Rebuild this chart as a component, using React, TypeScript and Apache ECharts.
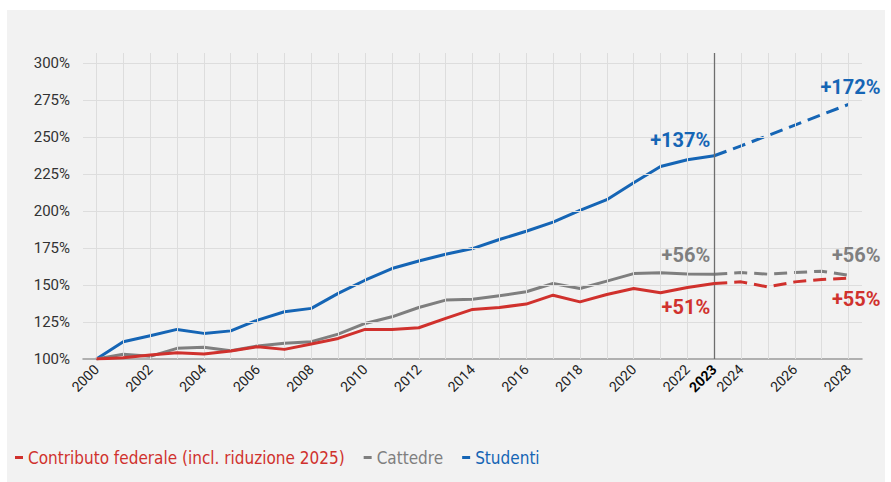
import React, { useEffect, useRef } from "react";
import * as echarts from "echarts";

const years = ["2000","2001","2002","2003","2004","2005","2006","2007","2008","2009","2010","2011","2012","2013","2014","2015","2016","2017","2018","2019","2020","2021","2022","2023","2024","2025","2026","2027","2028"];
const forecastStart = "2023";
const contributo = [100, 100.9, 102.7, 104.2, 103.4, 105.4, 108.3, 106.5, 110.1, 113.9, 120, 120, 121.1, 127.4, 133.5, 134.8, 137.1, 143.1, 138.6, 143.6, 147.6, 144.7, 148.3, 151, 152.1, 148.7, 152.1, 153.7, 154.6];
const cattedre = [100, 103.2, 101.8, 107.2, 107.9, 105.6, 108.8, 110.6, 111.7, 116.8, 124, 128.5, 134.8, 139.8, 140.4, 142.7, 145.4, 151, 147.6, 152.6, 157.7, 158.2, 157.5, 157.3, 158.4, 157.3, 158.4, 159.3, 156.6];
const studenti = [100, 111.7, 115.7, 120, 117.3, 119, 126.3, 131.9, 134.2, 144.3, 153.2, 161.1, 166.2, 170.8, 174.6, 180.7, 186.3, 192.5, 200.4, 207.6, 219.1, 230, 234.6, 237.3, 244, 251, 258, 265, 272];
const yTicks = [100, 125, 150, 175, 200, 225, 250, 275, 300];
const labelsAt2023 = { contributo: "+51%", cattedre: "+56%", studenti: "+137%" };
const labelsAt2028 = { contributo: "+55%", cattedre: "+56%", studenti: "+172%" };
const names = {
  contributo: "Contributo federale (incl. riduzione 2025)",
  cattedre: "Cattedre",
  studenti: "Studenti",
};

const RED = "#d0312d";
const GRAY = "#7f7f7f";
const BLUE = "#1565b5";
const AXIS_FONT = "Roboto, 'DejaVu Sans', sans-serif";
const LEGEND_FONT = "'Liberation Sans Narrow', 'DejaVu Sans Condensed', Roboto, sans-serif";

export default function App() {
  const ref = useRef<HTMLDivElement>(null);
  useEffect(() => {
    if (!ref.current) return;
    const chart = echarts.init(ref.current, null, { renderer: "svg" });
    const fi = years.indexOf(forecastStart);
    const last = years.length - 1;

    const mk = (
      key: "contributo" | "cattedre" | "studenti",
      values: number[],
      color: string,
      offStart: number[],
      offEnd: number[],
      z: number
    ) => {
      const lbl = (text: string, off: number[]) => ({
        show: true,
        position: "inside",
        align: "right",
        verticalAlign: "middle",
        offset: off,
        formatter: text,
        color,
        fontFamily: AXIS_FONT,
        fontWeight: "bold",
        fontSize: 20,
      });
      return [
        {
          name: names[key],
          type: "line",
          z,
          data: values.map((v, i) => (i <= fi ? v : null)),
          showSymbol: false,
          symbol: "none",
          lineStyle: { color, width: 3, join: "round" },
          itemStyle: { color },
          silent: true,
          markPoint: {
            symbol: "circle",
            symbolSize: 0,
            silent: true,
            data: [
              { coord: [fi, values[fi]], label: lbl(labelsAt2023[key], offStart) },
            ],
          },
        },
        {
          name: names[key],
          type: "line",
          z,
          data: values.map((v, i) => (i >= fi ? v : null)),
          showSymbol: false,
          symbol: "none",
          lineStyle: { color, width: 3, type: [13, 7], join: "round" },
          itemStyle: { color },
          silent: true,
          markPoint: {
            symbol: "circle",
            symbolSize: 0,
            silent: true,
            data: [
              { coord: [last, values[last]], label: lbl(labelsAt2028[key], offEnd) },
            ],
          },
        },
      ];
    };

    const gridLineStyle = { color: "#dddddd", width: 1, type: "solid" };

    const option: any = {
      animation: false,
      backgroundColor: "transparent",
      grid: { left: 83, right: 29, top: 53, bottom: 123 },
      legend: {
        left: 10,
        top: 444,
        icon: "rect",
        itemWidth: 8,
        itemHeight: 3,
        itemGap: 19,
        selectedMode: false,
        textStyle: { fontFamily: LEGEND_FONT, fontSize: 17 },
        data: [
          { name: names.contributo, textStyle: { color: RED } },
          { name: names.cattedre, textStyle: { color: GRAY } },
          { name: names.studenti, textStyle: { color: BLUE } },
        ],
      },
      xAxis: {
        type: "category",
        data: years,
        boundaryGap: true,
        axisLine: { show: true, lineStyle: { color: "#9a9a9a", width: 1.5 } },
        axisTick: { show: false },
        splitLine: { show: false },
        axisLabel: {
          interval: (idx: number, val: string) => Number(val) % 2 === 0 || val === forecastStart,
          rotate: 45,
          margin: 8,
          color: "#222",
          fontFamily: AXIS_FONT,
          fontSize: 14,
          formatter: (val: string) => (val === forecastStart ? "{b|" + val + "}" : val),
          rich: { b: { fontWeight: "bold", color: "#000", fontFamily: AXIS_FONT, fontSize: 14 } },
        },
      },
      yAxis: {
        type: "value",
        min: 100,
        max: 306.7,
        interval: 25,
        axisLine: { show: false },
        axisTick: { show: false },
        splitLine: { show: false },
        axisLabel: {
          margin: 13,
          color: "#333",
          fontFamily: AXIS_FONT,
          fontSize: 15,
          showMaxLabel: false,
          formatter: (v: number) => (yTicks.indexOf(v) >= 0 ? v + "%" : ""),
        },
      },
      series: [
        {
          type: "line",
          data: [],
          z: 1,
          silent: true,
          markLine: {
            silent: true,
            symbol: ["none", "none"],
            label: { show: false },
            emphasis: { disabled: true },
            lineStyle: gridLineStyle,
            data: [
              ...years.map((y, i) => ({ xAxis: i })),
              ...yTicks.filter((v) => v !== yTicks[0]).map((v) => ({ yAxis: v })),
            ],
          },
        },
        {
          type: "line",
          data: [],
          z: 1.5,
          silent: true,
          markLine: {
            silent: true,
            symbol: ["none", "none"],
            label: { show: false },
            emphasis: { disabled: true },
            lineStyle: { color: "#6e6e6e", width: 1.3, type: "solid" },
            data: [{ xAxis: fi }],
          },
        },
        ...mk("contributo", contributo, RED, [-4, 24], [32, 21], 5),
        ...mk("cattedre", cattedre, GRAY, [-4, -19], [32, -20], 4),
        ...mk("studenti", studenti, BLUE, [-4, -16], [32, -17], 3),
      ],
    };
    chart.setOption(option);
    return () => chart.dispose();
  }, []);

  return (
    <div style={{ position: "fixed", left: 0, top: 0, width: 891, height: 482, background: "#ffffff" }}>
      <div style={{ position: "absolute", left: 7, top: 10, width: 878, height: 472, background: "#f2f2f2" }} />
      <div ref={ref} style={{ position: "absolute", left: 0, top: 0, width: 891, height: 482 }} />
    </div>
  );
}
